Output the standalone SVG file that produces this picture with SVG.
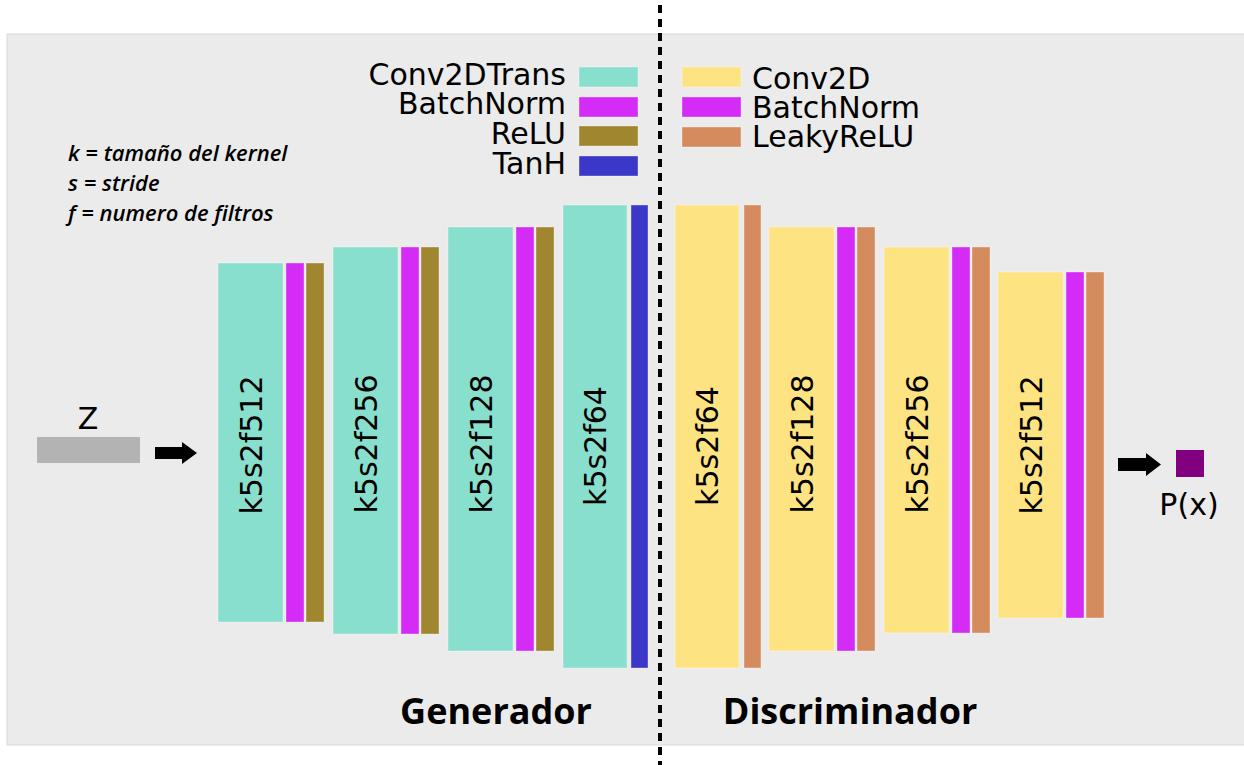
<svg xmlns="http://www.w3.org/2000/svg" width="1244" height="765" viewBox="0 0 1244 765">
  <style>
    .panel { fill: #ebebeb; stroke: #d8d8d8; stroke-width: 1; }
    .blk { stroke: #ffffff; stroke-opacity: 0.35; stroke-width: 1; }
    .conv-t { fill: #89dfcd; }
    .conv { fill: #fee383; }
    .bn { fill: #d52bf7; }
    .relu { fill: #a0862f; }
    .tanh { fill: #3a37c9; }
    .lrelu { fill: #d48c5f; }
    .lbl { font-family: "DejaVu Sans", sans-serif; font-size: 30px; fill: #000; }
    .note { font-family: "Open Sans", sans-serif; font-style: italic; font-weight: 600; font-size: 22px; fill: #000; }
    .title { font-family: "Open Sans", sans-serif; font-weight: 700; font-size: 36px; fill: #000; }
    .arrow { fill: #000; }
  </style>

  <!-- background panel -->
  <rect class="panel" x="7" y="34" width="1240" height="711"/>

  <!-- legend: generator -->
  <g id="legend-generator">
    <text class="lbl" x="566" y="85" text-anchor="end">Conv2DTrans</text>
    <rect class="blk conv-t" x="579" y="67" width="59" height="20"/>
    <text class="lbl" x="566" y="114" text-anchor="end">BatchNorm</text>
    <rect class="blk bn" x="579" y="97" width="59" height="20"/>
    <text class="lbl" x="566" y="144" text-anchor="end">ReLU</text>
    <rect class="blk relu" x="579" y="126" width="59" height="20"/>
    <text class="lbl" x="566" y="174" text-anchor="end">TanH</text>
    <rect class="blk tanh" x="579" y="156" width="59" height="20"/>
  </g>

  <!-- legend: discriminator -->
  <g id="legend-discriminator">
    <rect class="blk conv" x="682" y="67" width="59" height="20"/>
    <text class="lbl" x="752" y="89">Conv2D</text>
    <rect class="blk bn" x="682" y="97" width="59" height="20"/>
    <text class="lbl" x="752" y="118">BatchNorm</text>
    <rect class="blk lrelu" x="682" y="127" width="59" height="20"/>
    <text class="lbl" x="752" y="147">LeakyReLU</text>
  </g>

  <!-- parameter key -->
  <g id="key">
    <text class="note" x="68" y="161">k = tamaño del kernel</text>
    <text class="note" x="68" y="191">s = stride</text>
    <text class="note" x="68" y="221">f = numero de filtros</text>
  </g>

  <!-- latent input -->
  <g id="z-input">
    <text class="lbl" x="88" y="429" text-anchor="middle">Z</text>
    <rect x="37" y="437" width="103" height="26" fill="#b3b3b3"/>
  </g>

  <!-- generator blocks -->
  <g id="gen-1">
    <rect class="blk conv-t" x="218" y="263" width="65" height="359"/>
    <rect class="blk bn" x="286" y="263" width="18" height="359"/>
    <rect class="blk relu" x="306" y="263" width="18" height="359"/>
    <text class="lbl" transform="translate(251,445) rotate(-90)" text-anchor="middle" dy="0.36em">k5s2f512</text>
  </g>
  <g id="gen-2">
    <rect class="blk conv-t" x="333" y="247" width="65" height="387"/>
    <rect class="blk bn" x="401" y="247" width="18" height="387"/>
    <rect class="blk relu" x="421" y="247" width="18" height="387"/>
    <text class="lbl" transform="translate(366,444) rotate(-90)" text-anchor="middle" dy="0.36em">k5s2f256</text>
  </g>
  <g id="gen-3">
    <rect class="blk conv-t" x="448" y="227" width="65" height="424"/>
    <rect class="blk bn" x="516" y="227" width="18" height="424"/>
    <rect class="blk relu" x="536" y="227" width="18" height="424"/>
    <text class="lbl" transform="translate(481,444) rotate(-90)" text-anchor="middle" dy="0.36em">k5s2f128</text>
  </g>
  <g id="gen-4">
    <rect class="blk conv-t" x="563" y="205" width="64" height="463"/>
    <rect class="blk tanh" x="631" y="205" width="17" height="463"/>
    <text class="lbl" transform="translate(595,446) rotate(-90)" text-anchor="middle" dy="0.36em">k5s2f64</text>
  </g>

  <!-- discriminator blocks -->
  <g id="disc-1">
    <rect class="blk conv" x="675" y="205" width="64" height="463"/>
    <rect class="blk lrelu" x="744" y="205" width="17" height="463"/>
    <text class="lbl" transform="translate(707,446) rotate(-90)" text-anchor="middle" dy="0.36em">k5s2f64</text>
  </g>
  <g id="disc-2">
    <rect class="blk conv" x="769" y="227" width="65" height="424"/>
    <rect class="blk bn" x="837" y="227" width="18" height="424"/>
    <rect class="blk lrelu" x="857" y="227" width="18" height="424"/>
    <text class="lbl" transform="translate(802,444) rotate(-90)" text-anchor="middle" dy="0.36em">k5s2f128</text>
  </g>
  <g id="disc-3">
    <rect class="blk conv" x="884" y="247" width="65" height="386"/>
    <rect class="blk bn" x="952" y="247" width="18" height="386"/>
    <rect class="blk lrelu" x="972" y="247" width="18" height="386"/>
    <text class="lbl" transform="translate(917,444) rotate(-90)" text-anchor="middle" dy="0.36em">k5s2f256</text>
  </g>
  <g id="disc-4">
    <rect class="blk conv" x="998" y="272" width="65" height="346"/>
    <rect class="blk bn" x="1066" y="272" width="18" height="346"/>
    <rect class="blk lrelu" x="1086" y="272" width="18" height="346"/>
    <text class="lbl" transform="translate(1031,445) rotate(-90)" text-anchor="middle" dy="0.36em">k5s2f512</text>
  </g>

  <!-- output -->
  <g id="output">
    <rect x="1176" y="450" width="28" height="27" fill="#800080"/>
    <text class="lbl" x="1189" y="515" text-anchor="middle">P(x)</text>
  </g>

  <!-- connectors -->
  <g id="connectors">
    <polygon class="arrow" points="155,447 182,447 182,442 197,453 182,464 182,459 155,459"/>
    <polygon class="arrow" points="1118,458 1146,458 1146,453 1161,464.5 1146,476 1146,471 1118,471"/>
  </g>

  <!-- divider between the two networks -->
  <line x1="660" y1="5" x2="660" y2="765" stroke="#000" stroke-width="4" stroke-dasharray="8 6"/>

  <!-- section titles -->
  <text class="title" x="496" y="724" text-anchor="middle">Generador</text>
  <text class="title" x="850" y="724" text-anchor="middle">Discriminador</text>
</svg>
